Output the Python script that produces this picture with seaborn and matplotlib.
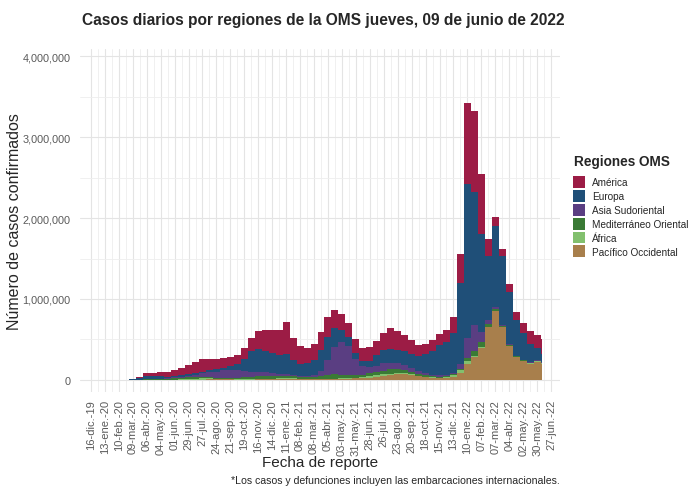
import numpy as np
import pandas as pd
import matplotlib
matplotlib.use("Agg")
import matplotlib.pyplot as plt
import matplotlib.dates as mdates
import matplotlib.ticker as mticker
from matplotlib.patches import Patch
import seaborn as sns

# ---------------- data (daily cases, thousands, per 14-day period) ----------------
period_start = pd.date_range("2020-01-06", periods=64, freq="14D")
data_end = "2022-06-09"

regions = ["América", "Europa", "Asia Sudoriental", "Mediterráneo Oriental",
           "África", "Pacífico Occidental"]
colors = ["#9c1c45", "#1f4f78", "#5a3e82", "#3a7a35", "#82c06e", "#a87f4c"]

america = [0, 0, 0, 0, 0.5, 10, 35, 40, 50, 60, 70, 90, 120, 140, 150, 140,
           130, 120, 110, 105, 130, 165, 215, 260, 290, 310, 400, 280, 220, 190,
           200, 230, 250, 230, 200, 170, 170, 160, 170, 180, 210, 260, 240, 200,
           170, 140, 120, 130, 140, 150, 190, 350, 1000, 1000, 750, 220, 110, 90,
           90, 90, 120, 150, 170, 180]
europa = [0, 0, 0, 0, 5, 25, 38, 35, 30, 20, 17, 17, 18, 20, 22, 25,
          30, 35, 50, 80, 150, 260, 290, 265, 245, 230, 250, 180, 150, 160,
          190, 260, 280, 230, 150, 110, 80, 60, 80, 130, 170, 170, 160, 170,
          170, 185, 240, 300, 370, 410, 500, 1000, 1900, 1650, 1200, 780, 1000, 850,
          650, 450, 330, 230, 150, 100]
asia_sud = [0, 0, 0, 0, 0, 0.1, 1.5, 2, 4, 5, 8, 12, 18, 27, 45, 60,
            75, 90, 100, 90, 75, 55, 50, 45, 35, 25, 20, 17, 15, 16,
            20, 60, 190, 340, 400, 360, 200, 110, 75, 70, 90, 80, 70, 60,
            45, 30, 22, 18, 15, 14, 12, 60, 250, 320, 130, 50, 20, 12,
            8, 6, 6, 7, 8, 10]
mediterraneo = [0, 0, 0, 0, 1, 3, 4, 5, 8, 12, 18, 22, 22, 20, 17, 15,
                15, 15, 17, 20, 25, 30, 33, 35, 30, 25, 22, 20, 20, 22,
                28, 35, 45, 55, 48, 40, 33, 30, 35, 40, 45, 55, 55, 45,
                35, 25, 18, 14, 12, 12, 12, 20, 40, 60, 60, 40, 25, 15,
                10, 6, 5, 4, 4, 5]
africa = [0, 0, 0, 0, 0, 0, 0.3, 0.8, 1.2, 2, 3, 5, 8, 12, 14, 12,
          8, 6, 5, 4, 4, 5, 6, 7, 9, 14, 17, 14, 8, 6,
          5, 6, 6, 5, 5, 5, 6, 11, 20, 27, 25, 18, 15, 12,
          8, 5, 4, 3, 3, 10, 30, 40, 30, 15, 7, 5, 4, 3,
          3, 4, 6, 8, 8, 6]
pacifico = [0.01, 0.5, 3, 1.5, 1, 1, 1, 1.5, 1, 1, 1, 1, 1.5, 2.5, 4, 5,
            5, 5, 5, 4.5, 4, 4, 5, 6, 7, 8, 10, 10, 8, 6,
            6, 6, 7, 9, 12, 15, 18, 20, 25, 35, 45, 60, 70, 70,
            60, 45, 35, 28, 25, 25, 30, 80, 200, 280, 400, 650, 850, 650,
            420, 280, 230, 200, 220, 200]

series = [america, europa, asia_sud, mediterraneo, africa, pacifico]

tick_start = "2019-12-16"
tick_end = "2022-06-27"
meses = ["ene", "feb", "mar", "abr", "may", "jun", "jul", "ago", "sep", "oct", "nov", "dic"]

title = "Casos diarios por regiones de la OMS jueves, 09 de junio de 2022"
ylabel = "Número de casos confirmados"
xlabel = "Fecha de reporte"
legend_title = "Regiones OMS"
caption = "*Los casos y defunciones incluyen las embarcaciones internacionales."

# ---------------- build table ----------------
xnum = mdates.date2num(period_start.to_pydatetime())
rows = []
for reg, vals in zip(regions, series):
    for x, v in zip(xnum, vals):
        rows.append({"x": x, "region": reg, "casos": v * 1000})
df = pd.DataFrame(rows)
edges = list(xnum) + [mdates.date2num(pd.Timestamp(data_end).to_pydatetime())]

# ---------------- plot ----------------
sns.set_theme(style="white")
plt.rcParams["font.family"] = ["Liberation Sans", "DejaVu Sans"]

W, H = 689, 489
fig = plt.figure(figsize=(W / 100, H / 100), dpi=100)
ax = fig.add_axes([80 / W, 1 - 393 / H, 480 / W, 343 / H])

sns.histplot(data=df, x="x", weights="casos", hue="region", hue_order=regions,
             palette=dict(zip(regions, colors)), multiple="stack", bins=edges,
             element="bars", linewidth=0, alpha=1, legend=False, ax=ax)

ticks = pd.date_range(tick_start, tick_end, freq="28D")
tnum = mdates.date2num(ticks.to_pydatetime())
ax.set_xticks(tnum)
ax.set_xticklabels([f"{d.day:02d}-{meses[d.month-1]}.-{d.year % 100:02d}" for d in ticks],
                   rotation=90, fontsize=8, color="#5a5a5a")
ax.set_xticks((tnum[:-1] + tnum[1:]) / 2, minor=True)
ax.set_yticks([0, 1e6, 2e6, 3e6, 4e6])
ax.set_yticks([5e5, 1.5e6, 2.5e6, 3.5e6], minor=True)
ax.yaxis.set_major_formatter(mticker.FuncFormatter(lambda v, p: f"{v:,.0f}"))
ax.tick_params(axis="y", labelsize=7.8, labelcolor="#5a5a5a", length=0, pad=7)
ax.tick_params(axis="x", length=0, pad=5)
ax.tick_params(which="minor", length=0)

ax.set_xlim(mdates.date2num(pd.Timestamp("2019-11-24").to_pydatetime()),
            mdates.date2num(pd.Timestamp("2022-07-15").to_pydatetime()))
ax.set_ylim(-150000, 4090000)

ax.grid(which="major", color="#e4e4e4", linewidth=0.8)
ax.grid(which="minor", color="#eeeeee", linewidth=0.6)
ax.set_axisbelow(True)
for s in ax.spines.values():
    s.set_visible(False)

ax.set_xlabel(xlabel, fontsize=11)
ax.xaxis.set_label_coords(0.5, (393 - 456) / 343)
ax.set_ylabel(ylabel, fontsize=11.5)
ax.yaxis.set_label_coords((15 - 80) / 480, 0.5)
ax.yaxis.label.set_va("center")
fig.text(323 / W, 1 - 21 / H, title, ha="center", va="center",
         fontsize=11.2, fontweight="bold")

# legend
fig.text(574 / W, 1 - 162 / H, legend_title, ha="left", va="center",
         fontsize=9.8, fontweight="bold")
handles = [Patch(facecolor=c, edgecolor="none") for c in colors]
fig.legend(handles, regions, loc="upper left",
           bbox_to_anchor=(573 / W, 1 - 177 / H), frameon=False, fontsize=7.2,
           handlelength=1.2, handleheight=1.45, handletextpad=0.7,
           labelspacing=0.2, borderaxespad=0, borderpad=0)

fig.text(560 / W, 1 - 481 / H, caption, ha="right", va="center", fontsize=7.6)

fig.savefig("out.png", dpi=100)
